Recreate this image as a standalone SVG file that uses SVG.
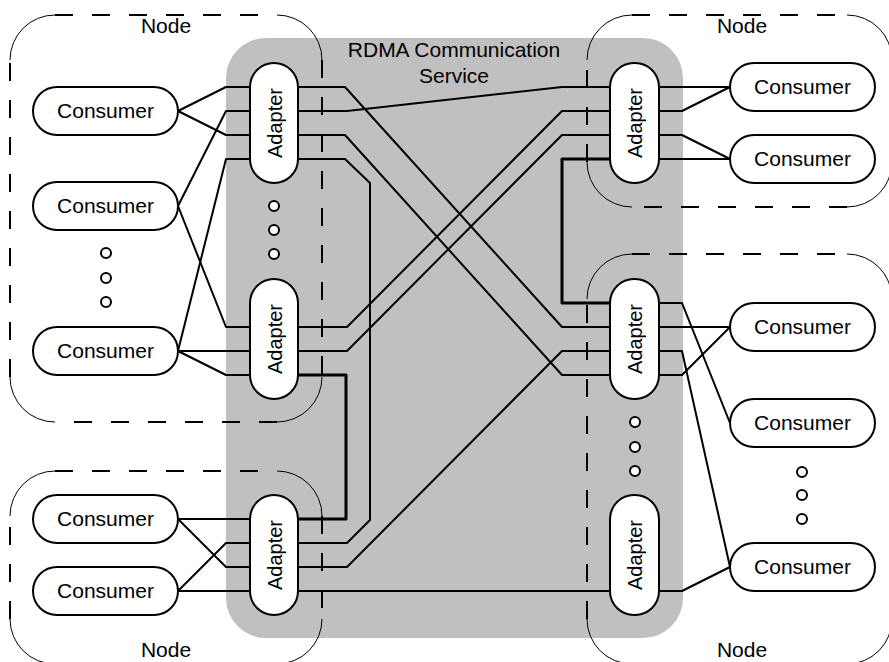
<svg xmlns="http://www.w3.org/2000/svg" width="889" height="662" viewBox="0 0 889 662">
<style>
text { font-family: "Liberation Sans", Arial, sans-serif; font-size: 21px; text-anchor: middle; fill: #000; }
.ad text { font-size: 20px; }
.shape { fill: #fff; stroke: #000; stroke-width: 2; }
.c { fill: none; stroke: #000; stroke-width: 2; stroke-linejoin: round; }
.thick { stroke-width: 3; }
.dash { fill: none; stroke: #000; stroke-width: 2; stroke-dasharray: 18 19; }
.arc { fill: none; stroke: #000; stroke-width: 1; }
.dot { fill: #fff; stroke: #000; stroke-width: 2; }
</style>
<rect id="service" x="226" y="38" width="457" height="600" rx="40" fill="#c0c0c0"/>
<text x="454" y="57">RDMA Communication</text>
<text x="454" y="83">Service</text>

<g id="node-top-left">
<path class="dash" d="M55,15 H277 M322,60 V377 M277,422 H55 M10,377 V60"/>
<path class="arc" d="M10,60 A45,45 0 0 1 55,15 M277,15 A45,45 0 0 1 322,60 M322,377 A45,45 0 0 1 277,422 M55,422 A45,45 0 0 1 10,377"/>
<text x="166" y="33">Node</text>
</g>
<g id="node-top-right">
<path class="dash" d="M632,15 H847 M892,60 V162 M847,207 H632 M587,162 V60"/>
<path class="arc" d="M587,60 A45,45 0 0 1 632,15 M847,15 A45,45 0 0 1 892,60 M892,162 A45,45 0 0 1 847,207 M632,207 A45,45 0 0 1 587,162"/>
<text x="742" y="33">Node</text>
</g>
<g id="node-bottom-right">
<path class="dash" d="M632,254 H847 M892,299 V619 M847,664 H632 M587,619 V299"/>
<path class="arc" d="M587,299 A45,45 0 0 1 632,254 M847,254 A45,45 0 0 1 892,299 M892,619 A45,45 0 0 1 847,664 M632,664 A45,45 0 0 1 587,619"/>
<text x="742" y="657">Node</text>
</g>
<g id="node-bottom-left">
<path class="dash" d="M55,471 H277 M322,516 V619 M277,664 H55 M10,619 V516"/>
<path class="arc" d="M10,516 A45,45 0 0 1 55,471 M277,471 A45,45 0 0 1 322,516 M322,619 A45,45 0 0 1 277,664 M55,664 A45,45 0 0 1 10,619"/>
<text x="166" y="657">Node</text>
</g>

<g id="connectors">
<path class="c" d="M178,111 L226,87 H250"/>
<path class="c" d="M178,111 L226,135 H250"/>
<path class="c" d="M178,206 L226,111 H250"/>
<path class="c" d="M178,351 L226,159 H250"/>
<path class="c" d="M178,206 L226,327 H250"/>
<path class="c" d="M178,351 H250"/>
<path class="c" d="M178,351 L226,375 H250"/>
<path class="c" d="M178,519 H250"/>
<path class="c" d="M178,519 L226,567 H250"/>
<path class="c" d="M178,591 L226,543 H250"/>
<path class="c" d="M178,591 H250"/>

<path class="c" d="M298,87 H345 L562,327 H610"/>
<path class="c" d="M298,111 H347 L562,87 H610"/>
<path class="c" d="M298,135 H345 L562,375 H610"/>
<path class="c" d="M298,159 H345 L370,183 V520 L347,543 H298"/>
<path class="c" d="M298,327 H347 L562,111 H610"/>
<path class="c" d="M298,351 H347 L562,135 H610"/>
<path class="c thick" d="M298,375 H346 V519 H298"/>
<path class="c" d="M298,567 H347 L562,351 H610"/>
<path class="c" d="M298,591 H610"/>
<path class="c thick" d="M610,159 H562 V303 H610"/>

<path class="c" d="M659,87 H730"/>
<path class="c" d="M659,111 H682 L730,87"/>
<path class="c" d="M659,135 H682 L730,159"/>
<path class="c" d="M659,159 H730"/>
<path class="c" d="M659,303 H682 L730,423"/>
<path class="c" d="M659,327 H730"/>
<path class="c" d="M659,351 H682 L730,567"/>
<path class="c" d="M659,375 H682 L730,327"/>
<path class="c" d="M659,591 H682 L730,567"/>
</g>

<g id="adapter-l1" class="ad"><rect class="shape" x="250" y="63" width="48" height="120" rx="24"/><text transform="translate(281.5,123) rotate(-90)">Adapter</text></g>
<g id="adapter-l2" class="ad"><rect class="shape" x="250" y="279" width="48" height="120" rx="24"/><text transform="translate(281.5,339) rotate(-90)">Adapter</text></g>
<g id="adapter-l3" class="ad"><rect class="shape" x="250" y="495" width="48" height="120" rx="24"/><text transform="translate(281.5,555) rotate(-90)">Adapter</text></g>
<g id="adapter-r1" class="ad"><rect class="shape" x="610" y="63" width="49" height="120" rx="24"/><text transform="translate(642,123) rotate(-90)">Adapter</text></g>
<g id="adapter-r2" class="ad"><rect class="shape" x="610" y="279" width="49" height="120" rx="24"/><text transform="translate(642,339) rotate(-90)">Adapter</text></g>
<g id="adapter-r3" class="ad"><rect class="shape" x="610" y="495" width="49" height="120" rx="24"/><text transform="translate(642,555) rotate(-90)">Adapter</text></g>

<g id="consumer-l1"><rect class="shape" x="33" y="87" width="145" height="48" rx="24"/><text x="105.5" y="118">Consumer</text></g>
<g id="consumer-l2"><rect class="shape" x="33" y="182" width="145" height="48" rx="24"/><text x="105.5" y="213">Consumer</text></g>
<g id="consumer-l3"><rect class="shape" x="33" y="327" width="145" height="48" rx="24"/><text x="105.5" y="358">Consumer</text></g>
<g id="consumer-l4"><rect class="shape" x="33" y="495" width="145" height="48" rx="24"/><text x="105.5" y="526">Consumer</text></g>
<g id="consumer-l5"><rect class="shape" x="33" y="567" width="145" height="48" rx="24"/><text x="105.5" y="598">Consumer</text></g>
<g id="consumer-r1"><rect class="shape" x="730" y="63" width="145" height="48" rx="24"/><text x="802.5" y="94">Consumer</text></g>
<g id="consumer-r2"><rect class="shape" x="730" y="135" width="145" height="48" rx="24"/><text x="802.5" y="166">Consumer</text></g>
<g id="consumer-r3"><rect class="shape" x="730" y="303" width="145" height="48" rx="24"/><text x="802.5" y="334">Consumer</text></g>
<g id="consumer-r4"><rect class="shape" x="730" y="399" width="145" height="48" rx="24"/><text x="802.5" y="430">Consumer</text></g>
<g id="consumer-r5"><rect class="shape" x="730" y="543" width="145" height="48" rx="24"/><text x="802.5" y="574">Consumer</text></g>

<g id="ellipsis-dots">
<circle class="dot" cx="106" cy="253" r="5"/><circle class="dot" cx="106" cy="278" r="5"/><circle class="dot" cx="106" cy="302" r="5"/>
<circle class="dot" cx="274" cy="206" r="5"/><circle class="dot" cx="274" cy="230" r="5"/><circle class="dot" cx="274" cy="254" r="5"/>
<circle class="dot" cx="635" cy="422" r="5"/><circle class="dot" cx="635" cy="447" r="5"/><circle class="dot" cx="635" cy="471" r="5"/>
<circle class="dot" cx="802" cy="472" r="5"/><circle class="dot" cx="802" cy="495" r="5"/><circle class="dot" cx="802" cy="519" r="5"/>
</g>
</svg>
